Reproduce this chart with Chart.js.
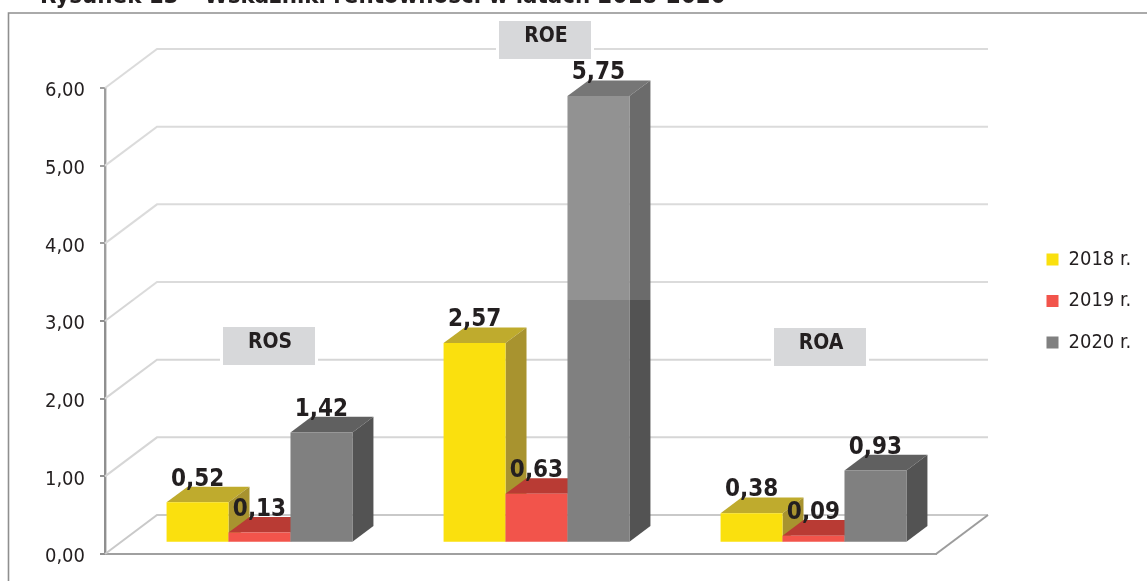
<!DOCTYPE html>
<html lang="pl">
<head>
<meta charset="utf-8">
<title>Wskaźniki rentowności</title>
<style>
html,body{margin:0;padding:0;background:#fff;overflow:hidden}
canvas{display:block}
</style>
<script src="https://cdn.jsdelivr.net/npm/chart.js@4"></script>
</head>
<body>
<canvas id="chart" width="1147" height="581"></canvas>
<script>
// Profitability ratios by year
const categories = ['ROS', 'ROE', 'ROA'];
const seriesNames = ['2018 r.', '2019 r.', '2020 r.'];
const values2018 = [0.52, 2.57, 0.38];
const values2019 = [0.13, 0.63, 0.09];
const values2020 = [1.42, 5.75, 0.93];
const heading = 'Rysunek 13 – Wskaźniki rentowności w latach 2018-2020';

// Face colours of each year's columns
const frontColours = ['#fae00e', '#f2544b', '#808080'];
const topColours = ['#bfab2d', '#b93b34', '#606060'];
const sideColours = ['#a8932f', '#a03029', '#535353'];

const FAMILY = "'DejaVu Sans Condensed','DejaVu Sans',sans-serif";
const INK = '#231f20';

// Oblique projection of the floor and of the columns standing on it
const WALL_DX = 52, WALL_DY = 39;
const BAR_SHIFT_X = 16, BAR_SHIFT_Y = 11.3;
const BAR_DX = 21, BAR_DY = 15.6;
const FADE_ABOVE_Y = 300;

const decimal = v => Number(v).toFixed(2).replace('.', ',');

function poly(ctx, pts, fill) {
  ctx.beginPath();
  pts.forEach((p, i) => i ? ctx.lineTo(p[0], p[1]) : ctx.moveTo(p[0], p[1]));
  ctx.closePath();
  ctx.fillStyle = fill;
  ctx.fill();
}

function line(ctx, pts, colour, width) {
  ctx.beginPath();
  pts.forEach((p, i) => i ? ctx.lineTo(p[0], p[1]) : ctx.moveTo(p[0], p[1]));
  ctx.strokeStyle = colour;
  ctx.lineWidth = width;
  ctx.stroke();
}

const frame3d = {
  id: 'frame3d',
  beforeDraw(chart) {
    const ctx = chart.ctx;
    ctx.save();
    ctx.fillStyle = '#fff';
    ctx.fillRect(0, 0, chart.width, chart.height);
    line(ctx, [[8.5, 581], [8.5, 13], [1147, 13]], '#8f8f8f', 1.6);
    ctx.font = 'bold 23.8px ' + FAMILY;
    ctx.fillStyle = INK;
    ctx.textAlign = 'left';
    ctx.textBaseline = 'alphabetic';
    ctx.fillText(heading, 40, 3);
    ctx.restore();
  },
  afterLayout(chart) {
    // The legend sits in the right margin, clear of the plot
    const lg = chart.legend;
    const w = lg.width, h = lg.height;
    lg.left = 1025; lg.right = 1025 + w;
    lg.top = 228; lg.bottom = 228 + h;
  },
  beforeDatasetsDraw(chart) {
    const ctx = chart.ctx, y = chart.scales.y, a = chart.chartArea;
    ctx.save();

    // Gridlines run up the side wall and along the back wall
    y.ticks.forEach(t => {
      const py = y.getPixelForValue(t.value);
      const back = t.value === 0 ? '#c9c9c9' : '#d6d6d6';
      line(ctx, [[a.left, py], [a.left + WALL_DX, py - WALL_DY], [a.right + WALL_DX, py - WALL_DY]], back, 2);
    });
    line(ctx, [[a.right, a.bottom], [a.right + WALL_DX, a.bottom - WALL_DY]], '#9c9c9c', 2);

    // Columns, earliest year first, so later faces overlap earlier ones
    ctx.save();
    ctx.translate(BAR_SHIFT_X, -BAR_SHIFT_Y);
    chart.data.datasets.forEach((ds, di) => {
      chart.getDatasetMeta(di).data.forEach(el => {
        const x1 = el.x - el.width / 2, x2 = el.x + el.width / 2, t = el.y, b = el.base;
        poly(ctx, [[x1, t], [x1 + BAR_DX, t - BAR_DY], [x2 + BAR_DX, t - BAR_DY], [x2, t]], topColours[di]);
        poly(ctx, [[x2, t], [x2 + BAR_DX, t - BAR_DY], [x2 + BAR_DX, b - BAR_DY], [x2, b]], sideColours[di]);
        el.draw(ctx);
      });
    });
    ctx.restore();

    // The upper part of the plot is slightly washed out
    ctx.fillStyle = 'rgba(255,255,255,0.14)';
    ctx.fillRect(100, 20, 900, FADE_ABOVE_Y - 20);

    // Ratio name plates
    const plates = [[269, 327], [545, 21], [820, 328]];
    plates.forEach((p, i) => {
      const cx = p[0], top = p[1];
      ctx.fillStyle = '#fff';
      ctx.fillRect(cx - 49, top - 1, 98, 40);
      ctx.fillStyle = '#d7d8da';
      ctx.fillRect(cx - 46, top, 92, 38);
      ctx.fillStyle = INK;
      ctx.font = 'bold 21px ' + FAMILY;
      ctx.textAlign = 'center';
      ctx.textBaseline = 'middle';
      ctx.fillText(categories[i], cx + 1, top + 15.5);
    });

    // Value labels above the columns
    ctx.font = 'bold 24px ' + FAMILY;
    ctx.fillStyle = INK;
    ctx.textAlign = 'center';
    ctx.textBaseline = 'middle';
    chart.data.datasets.forEach((ds, di) => {
      chart.getDatasetMeta(di).data.forEach((el, i) => {
        ctx.fillText(decimal(ds.data[i]), el.x + BAR_SHIFT_X, el.y - BAR_SHIFT_Y - 23);
      });
    });

    ctx.restore();
    return false;
  }
};

new Chart(document.getElementById('chart'), {
  type: 'bar',
  plugins: [frame3d],
  data: {
    labels: categories,
    datasets: [values2018, values2019, values2020].map((vals, i) => ({
      label: seriesNames[i],
      data: vals,
      backgroundColor: frontColours[i],
      borderWidth: 0,
      categoryPercentage: 0.671,
      barPercentage: 1
    }))
  },
  options: {
    responsive: false,
    animation: false,
    layout: { padding: { left: 8, right: 211, top: 88, bottom: 27 } },
    plugins: {
      title: { display: false },
      tooltip: { enabled: false },
      legend: {
        position: 'chartArea',
        align: 'start',
        labels: {
          boxWidth: 12,
          boxHeight: 12,
          padding: 21.5,
          color: INK,
          font: { family: FAMILY, size: 20 }
        }
      }
    },
    scales: {
      x: {
        afterFit: s => { s.height = 0; },
        ticks: { display: false },
        grid: { display: false },
        border: { display: true, color: '#a0a0a0', width: 2 }
      },
      y: {
        min: 0,
        max: 6,
        afterFit: s => { s.width = 97; },
        ticks: {
          stepSize: 1,
          padding: 15,
          labelOffset: 3,
          z: 1,
          color: INK,
          font: { family: FAMILY, size: 20 },
          callback: v => decimal(v)
        },
        grid: { drawOnChartArea: false, drawTicks: true, tickLength: 5, color: '#8f8f8f', lineWidth: 2 },
        border: { display: true, color: '#8f8f8f', width: 2.4 }
      }
    }
  }
});
</script>
</body>
</html>
